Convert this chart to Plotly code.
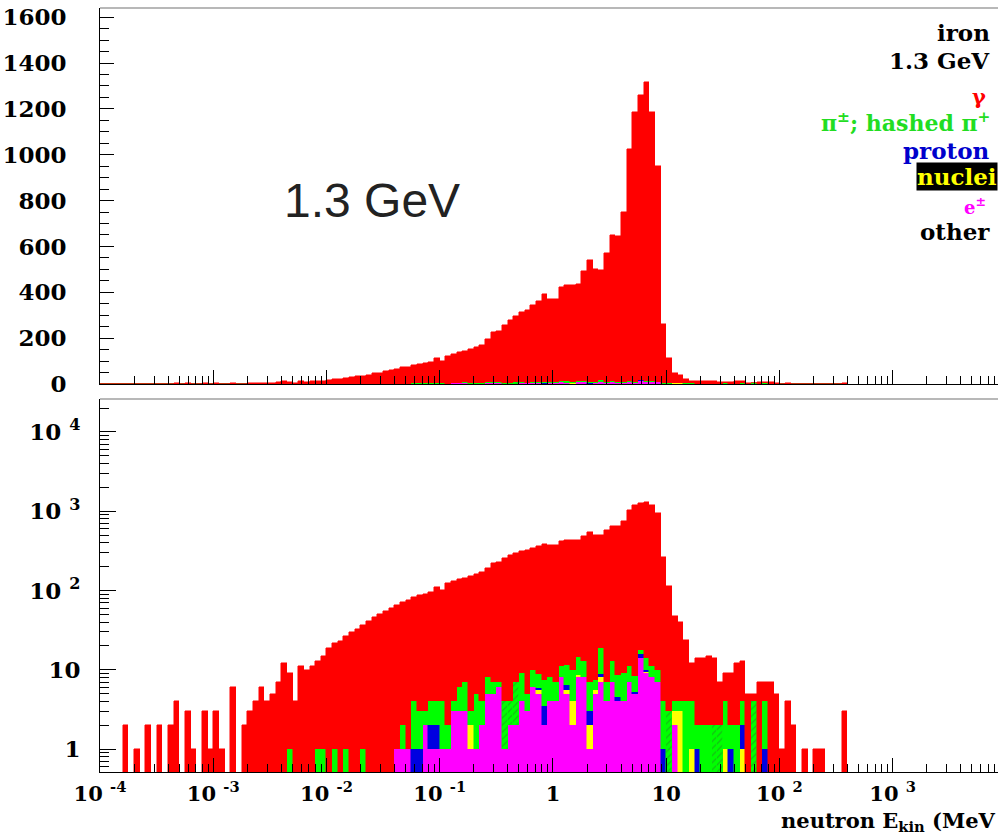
import numpy as np
import plotly.graph_objects as go

# ---------------- data ----------------
# histogram bins: 20 bins per decade, log10(E/MeV) from -4
log_e_min = -4.0
bin_width_dex = 0.05

# gamma counts per bin, starting at bin 0 (E = 1e-4 MeV)
gamma = [0, 0, 0, 0, 2, 0, 1, 0, 2, 0,
         2, 0, 2, 4, 0, 3, 1, 0, 3, 1,
         3, 1, 0, 6, 0, 2, 3, 4, 6, 4,
         5, 7, 12, 8, 4, 11, 10, 11, 12, 14,
         19, 21, 23, 26, 30, 33, 36, 41, 46, 50,
         55, 60, 64, 70, 74, 78, 84, 88, 92, 108,
         96, 122, 128, 132, 137, 148, 155, 166, 187, 218,
         223, 252, 275, 290, 305, 319, 333, 353, 383, 362,
         365, 413, 420, 420, 422, 478, 536, 492, 478, 566,
         637, 637, 741, 1016, 1177, 1242, 1303, 1177, 942, 258,
         110, 43, 36, 20, 8, 12, 12, 13, 12, 5,
         5, 7, 10, 9, 5, 1, 7, 3, 7, 5,
         1, 4, 2, 0, 1, 0, 1, 1, 0, 0,
         0, 3]

pion_first_bin = 33
pion = [1, 0, 0, 0, 0, 1, 1, 0, 1, 0, 1, 0, 0, 1, 0, 0, 0, 0, 0, 0,
        1, 0, 3, 2, 1, 2, 2, 3, 1, 1, 3, 4, 1, 4, 2, 3, 2, 1, 3, 2,
        5, 5, 2, 4, 3, 4, 4, 3, 3, 5, 6, 6, 5, 4, 2, 10, 3, 6, 4, 5,
        4, 3, 2, 4, 3, 3, 3, 3, 1, 1, 4, 3, 1, 2, 2, 2, 2, 3, 1, 2,
        2, 0, 4, 0, 3]
# bins where the pi+ part is drawn hatched
pion_plus_hatched_bins = [71, 72, 73, 100, 108, 109, 115]

positron_first_bin = 52
positron = [1, 1, 1, 0, 0, 2, 1, 1, 1, 1, 3, 3, 3, 1, 1, 2, 5, 5, 6, 1,
            2, 2, 4, 3, 6, 5, 2, 4, 4, 8, 5, 2, 8, 8, 1, 5, 7, 4, 7, 4,
            4, 7, 5, 14, 9, 8, 7, 0, 0, 2]

nuclei_first_bin = 65
nuclei = [1, 0, 0, 0, 0, 0, 0, 0, 0, 0, 0, 0, 0.5, 0, 0, 0, 0, 0.5, 2, 0.5,
          0, 1, 0.5, 1, 0, 0, 0, 0, 0, 0, 0, 0.5, 0, 0, 0, 0, 1, 3, 0, 1,
          0, 0, 0, 0, 0, 1, 0, 0, 1]

proton_first_bin = 55
proton = [1, 1, 0, 1, 1, 0, 0, 0, 0, 0, 0, 0, 0, 0, 0, 0, 0, 0, 0, 0,
          0, 0, 0.4, 1.5, 0, 0, 0, 1, 0, 0, 0, 1, 0, 0.8, 0, 0, 0.5, 0, 0, 0.3,
          2, 0.5, 0, 0, 1, 0, 0, 0, 0, 0, 1, 0, 0, 0, 0, 0, 1, 0, 1, 0,
          0, 0, 1]

x_tick_exponents = [-4, -3, -2, -1, 0, 1, 2, 3]
x_tick_labels = ["10 <sup>-4</sup>", "10 <sup>-3</sup>", "10 <sup>-2</sup>", "10 <sup>-1</sup>",
                 "1", "10", "10 <sup>2</sup>", "10 <sup>3</sup>"]
y_lin_ticks = [0, 200, 400, 600, 800, 1000, 1200, 1400, 1600]
y_log_ticks = [1, 10, 100, 1000, 10000]
y_log_labels = ["1", "10", "10 <sup>2</sup>", "10 <sup>3</sup>", "10 <sup>4</sup>"]

# ---------------- build ----------------
n_bins = len(gamma)


def full(first, vals):
    arr = np.zeros(n_bins)
    arr[first:first + len(vals)] = vals
    return arr


centers = log_e_min + bin_width_dex * (np.arange(n_bins) + 0.5)
pion_pattern = ["/" if i in pion_plus_hatched_bins else "" for i in range(n_bins)]

series = [
    ("e±", full(positron_first_bin, positron), "#ff00ff", None),
    ("nuclei", full(nuclei_first_bin, nuclei), "#ffff00", None),
    ("proton", full(proton_first_bin, proton), "#0000e0", None),
    ("π±", full(pion_first_bin, pion), "#00ff00", pion_pattern),
    ("γ", np.array(gamma, dtype=float), "#ff0000", None),
]

fig = go.Figure()
for xa, ya in (("x", "y"), ("x2", "y2")):
    for name, vals, col, pat in series:
        marker = dict(color=col, line=dict(width=0.5, color=col))
        if pat is not None:
            marker["pattern"] = dict(shape=pat, fgcolor="#2a7a2a", size=5, solidity=0.25)
        fig.add_trace(go.Bar(x=centers, y=vals, width=bin_width_dex, name=name, marker=marker,
                             xaxis=xa, yaxis=ya, showlegend=False))

minor_x = [float(np.log10(k * 10.0 ** n)) for n in range(-4, 4) for k in range(2, 10)]
minor_ylog = [k * 10.0 ** n for n in range(-1, 5) for k in range(2, 10)]

tickfont = dict(family="DejaVu Serif", size=23, color="black", weight="bold")
xtickfont = dict(family="DejaVu Serif", size=21, color="black", weight="bold")

W, H = 999, 834
ML, MR, MT, MB = 100, 1, 8, 62
pw, ph = W - ML - MR, H - MT - MB


def py2f(py):
    return (H - MB - py) / ph


def px2f(px):
    return (px - ML) / pw


top_bottom_px = 384
bot_top_px = 399

xcommon = dict(range=[-4, 3.93], showgrid=False, zeroline=False, showline=True, linecolor="black",
               linewidth=1, ticks="inside", ticklen=14, tickcolor="black", tickwidth=1,
               tickmode="array", tickvals=x_tick_exponents,
               minor=dict(tickmode="array", tickvals=minor_x, ticks="inside", ticklen=8,
                          tickcolor="black", tickwidth=1))

fig.update_layout(
    width=W, height=H, margin=dict(l=ML, r=MR, t=MT, b=MB),
    paper_bgcolor="white", plot_bgcolor="white",
    barmode="stack", bargap=0, bargroupgap=0,
    xaxis=dict(domain=[0, 1], anchor="y", showticklabels=False, **xcommon),
    xaxis2=dict(domain=[0, 1], anchor="y2", ticktext=x_tick_labels, tickfont=xtickfont,
                ticklabelstandoff=3, **xcommon),
    yaxis=dict(domain=[py2f(top_bottom_px), 1], range=[0, 1640], showgrid=False, zeroline=False,
               showline=True, linecolor="black", ticks="inside", ticklen=14, tickcolor="black",
               tickmode="array", tickvals=y_lin_ticks, tickfont=tickfont, ticklabelstandoff=28,
               minor=dict(dtick=50, ticks="inside", ticklen=9, tickcolor="black")),
    yaxis2=dict(domain=[0, py2f(bot_top_px)], type="log", range=[-0.29, 4.416], showgrid=False,
                zeroline=False, showline=True, linecolor="black", ticks="inside", ticklen=16,
                tickcolor="black", tickmode="array", tickvals=y_log_ticks, ticktext=y_log_labels,
                tickfont=tickfont, ticklabelstandoff=14,
                minor=dict(tickmode="array", tickvals=minor_ylog, ticks="inside", ticklen=9,
                           tickcolor="black")),
)

# gray upper frame lines
for yref in ("y domain", "y2 domain"):
    fig.add_shape(type="line", xref="x domain", yref=yref, x0=0, x1=1, y0=1, y1=1,
                  line=dict(color="#a0a0a0", width=1.5))

ser = "DejaVu Serif"


def label(text, px, py, color="black", size=23, bg=None):
    fig.add_annotation(text=text, x=px2f(px), y=py2f(py), xref="paper", yref="paper",
                       xanchor="right", yanchor="middle", showarrow=False,
                       font=dict(family=ser, size=size, color=color, weight="bold"),
                       bgcolor=bg, borderpad=0)


label("iron", 991, 33)
label("1.3 GeV", 991, 60)
label("γ", 987, 96, color="#ff0000", size=21)
label("π<sup>±</sup>; hashed π<sup>+</sup>", 991, 122, color="#22dd22", size=22)
label("proton", 991, 150, color="#0000cc")
label("nuclei", 998, 176, color="#ffff00", bg="black")
label("e<sup>±</sup>", 987, 206, color="#ff00ff", size=18)
label("other", 991, 231)

fig.add_annotation(text="1.3 GeV", x=px2f(372), y=py2f(200), xref="paper", yref="paper",
                   xanchor="center", yanchor="middle", showarrow=False,
                   font=dict(family="Liberation Sans", size=48, color="#222222"))

fig.add_annotation(text="neutron E<sub>kin</sub> (MeV", x=1.0, y=py2f(821), xref="paper", yref="paper",
                   xanchor="right", yanchor="middle", showarrow=False,
                   font=dict(family=ser, size=21, color="black", weight="bold"))

fig.write_html("out.html")
